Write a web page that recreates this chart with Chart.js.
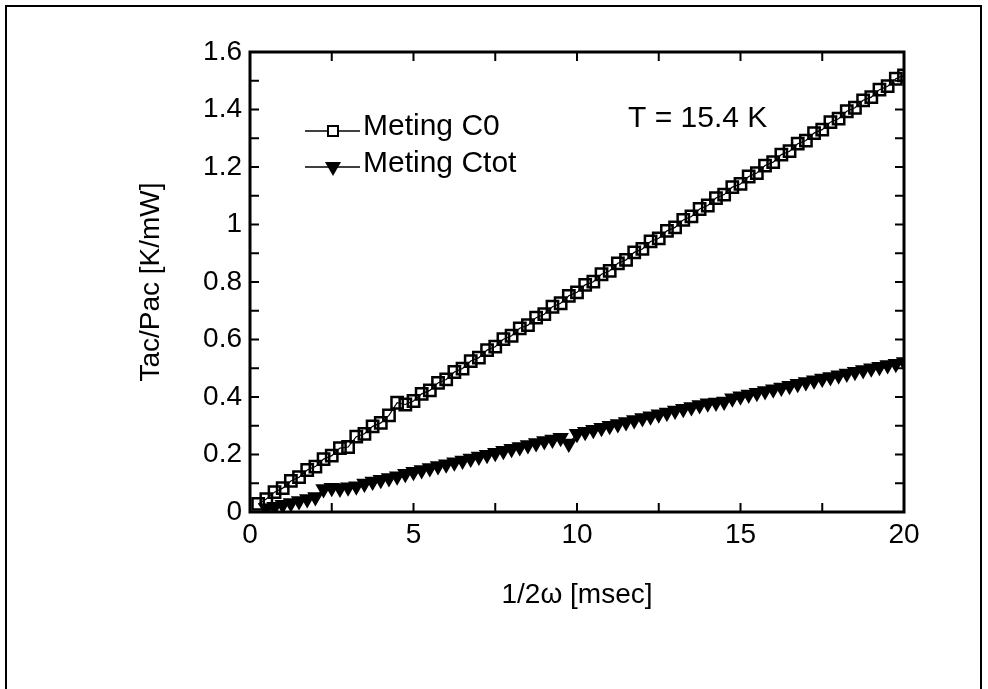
<!DOCTYPE html>
<html>
<head>
<meta charset="utf-8">
<script src="https://cdn.jsdelivr.net/npm/chart.js"></script>
<style>
  html, body { margin: 0; padding: 0; background: #fff; }
  #wrap { position: relative; width: 988px; height: 689px; }
  #frame {
    position: absolute; left: 5px; top: 5px; width: 973px; height: 700px;
    border: 2px solid #000; border-bottom: none; pointer-events: none;
  }
</style>
</head>
<body>
<div id="wrap">
  <canvas id="chart" width="988" height="689"></canvas>
  <div id="frame"></div>
</div>
<script>
// Data
const xC0 = [0.25, 0.5, 0.75, 1, 1.25, 1.5, 1.75, 2, 2.25, 2.5, 2.75, 3, 3.25, 3.5, 3.75, 4,
  4.25, 4.5, 4.75, 5, 5.25, 5.5, 5.75, 6, 6.25, 6.5, 6.75, 7, 7.25, 7.5, 7.75, 8,
  8.25, 8.5, 8.75, 9, 9.25, 9.5, 9.75, 10, 10.25, 10.5, 10.75, 11, 11.25, 11.5, 11.75, 12,
  12.25, 12.5, 12.75, 13, 13.25, 13.5, 13.75, 14, 14.25, 14.5, 14.75, 15, 15.25, 15.5, 15.75, 16,
  16.25, 16.5, 16.75, 17, 17.25, 17.5, 17.75, 18, 18.25, 18.5, 18.75, 19, 19.25, 19.5, 19.75, 20];
const c0Values = [0.028, 0.045, 0.069, 0.083, 0.108, 0.121, 0.146, 0.158, 0.184, 0.196, 0.222, 0.226, 0.262, 0.272, 0.298, 0.310,
  0.336, 0.380, 0.374, 0.386, 0.411, 0.423, 0.449, 0.461, 0.487, 0.499, 0.525, 0.537, 0.563, 0.575, 0.601, 0.613,
  0.639, 0.650, 0.676, 0.688, 0.714, 0.726, 0.752, 0.764, 0.790, 0.801, 0.827, 0.839, 0.865, 0.877, 0.903, 0.915,
  0.941, 0.952, 0.978, 0.990, 1.016, 1.028, 1.054, 1.066, 1.092, 1.104, 1.130, 1.141, 1.167, 1.179, 1.205, 1.217,
  1.243, 1.255, 1.281, 1.292, 1.318, 1.330, 1.356, 1.368, 1.394, 1.406, 1.432, 1.443, 1.469, 1.481, 1.507, 1.519];

const xCtot = [0.5, 0.75, 1, 1.25, 1.5, 1.75, 2, 2.25, 2.5, 2.75, 3, 3.25, 3.5, 3.75, 4,
  4.25, 4.5, 4.75, 5, 5.25, 5.5, 5.75, 6, 6.25, 6.5, 6.75, 7, 7.25, 7.5, 7.75, 8,
  8.25, 8.5, 8.75, 9, 9.25, 9.5, 9.75, 10, 10.25, 10.5, 10.75, 11, 11.25, 11.5, 11.75, 12,
  12.25, 12.5, 12.75, 13, 13.25, 13.5, 13.75, 14, 14.25, 14.5, 14.75, 15, 15.25, 15.5, 15.75, 16,
  16.25, 16.5, 16.75, 17, 17.25, 17.5, 17.75, 18, 18.25, 18.5, 18.75, 19, 19.25, 19.5, 19.75, 20];
const ctotValues = [0.012, 0.018, 0.025, 0.031, 0.038, 0.045, 0.052, 0.080, 0.084, 0.082, 0.086, 0.090, 0.099, 0.106, 0.112,
  0.118, 0.124, 0.133, 0.140, 0.146, 0.153, 0.160, 0.166, 0.173, 0.179, 0.186, 0.193, 0.199, 0.206, 0.213, 0.220,
  0.226, 0.233, 0.240, 0.247, 0.252, 0.258, 0.238, 0.272, 0.279, 0.286, 0.293, 0.300, 0.306, 0.313, 0.320, 0.327,
  0.333, 0.340, 0.346, 0.353, 0.359, 0.365, 0.372, 0.378, 0.381, 0.384, 0.396, 0.403, 0.409, 0.415, 0.421, 0.427,
  0.433, 0.439, 0.446, 0.452, 0.458, 0.464, 0.470, 0.476, 0.482, 0.488, 0.494, 0.500, 0.505, 0.511, 0.516, 0.522];

const xTicks = [0, 5, 10, 15, 20];
const xTickLabels = ["0", "5", "10", "15", "20"];
const xMinorTicks = [2.5, 7.5, 12.5, 17.5];
const yTicks = [0, 0.2, 0.4, 0.6, 0.8, 1, 1.2, 1.4, 1.6];
const yTickLabels = ["0", "0.2", "0.4", "0.6", "0.8", "1", "1.2", "1.4", "1.6"];
const yMinorTicks = [0.1, 0.3, 0.5, 0.7, 0.9, 1.1, 1.3, 1.5];

const seriesNames = ["Meting C0", "Meting Ctot"];
const annotationText = "T = 15.4 K";

Chart.defaults.font.family = '"Liberation Sans", Arial, Helvetica, sans-serif';
Chart.defaults.color = "#000";

// Frame, inward ticks on all four sides, legend and annotation
const decorations = {
  id: "decorations",
  afterDraw(chart) {
    const { ctx, chartArea: a, scales } = chart;
    const x = scales.x, y = scales.y;
    const tick = 9;
    ctx.save();
    ctx.strokeStyle = "#000";
    ctx.lineWidth = 2;
    ctx.beginPath();
    xTicks.concat(xMinorTicks).forEach((v) => {
      const px = x.getPixelForValue(v);
      ctx.moveTo(px, a.bottom); ctx.lineTo(px, a.bottom - tick);
      ctx.moveTo(px, a.top); ctx.lineTo(px, a.top + tick);
    });
    yTicks.concat(yMinorTicks).forEach((v) => {
      const py = y.getPixelForValue(v);
      ctx.moveTo(a.left, py); ctx.lineTo(a.left + tick, py);
      ctx.moveTo(a.right, py); ctx.lineTo(a.right - tick, py);
    });
    ctx.stroke();
    ctx.lineWidth = 3;
    ctx.strokeRect(a.left, a.top, a.right - a.left, a.bottom - a.top);

    // legend
    ctx.font = '30px "Liberation Sans", Arial, sans-serif';
    ctx.fillStyle = "#000";
    ctx.textBaseline = "alphabetic";
    const rows = [{ y: 131, base: 135 }, { y: 167, base: 172 }];
    rows.forEach((r, i) => {
      ctx.lineWidth = 1.5;
      ctx.beginPath();
      ctx.moveTo(305, r.y); ctx.lineTo(360, r.y);
      ctx.stroke();
      if (i === 0) {
        ctx.fillStyle = "#fff";
        ctx.fillRect(328, r.y - 5, 10, 10);
        ctx.lineWidth = 2;
        ctx.strokeRect(328, r.y - 5, 10, 10);
      } else {
        ctx.fillStyle = "#000";
        ctx.beginPath();
        ctx.moveTo(325, r.y - 5); ctx.lineTo(341, r.y - 5); ctx.lineTo(333, r.y + 9);
        ctx.closePath();
        ctx.fill();
      }
      ctx.fillStyle = "#000";
      ctx.fillText(seriesNames[i], 363, r.base);
    });
    ctx.fillText(annotationText, 628, 127);
    ctx.restore();
  }
};

const ctx = document.getElementById("chart").getContext("2d");
new Chart(ctx, {
  type: "scatter",
  data: {
    datasets: [
      {
        label: seriesNames[0],
        data: xC0.map((v, i) => ({ x: v, y: c0Values[i] })),
        showLine: true,
        borderColor: "#000",
        borderWidth: 1.2,
        pointStyle: "rect",
        pointRadius: 8,
        pointBorderWidth: 2.5,
        pointBackgroundColor: "rgba(255,255,255,0)",
        pointBorderColor: "#000",
      },
      {
        label: seriesNames[1],
        data: xCtot.map((v, i) => ({ x: v, y: ctotValues[i] })),
        showLine: true,
        borderColor: "#000",
        borderWidth: 1.2,
        pointStyle: "triangle",
        pointRotation: 180,
        pointRadius: 8,
        pointBorderWidth: 1.5,
        pointBackgroundColor: "#000",
        pointBorderColor: "#000",
      },
    ],
  },
  options: {
    responsive: false,
    animation: false,
    events: [],
    layout: { padding: { left: 134, right: 84, top: 52, bottom: 77 } },
    plugins: { legend: { display: false }, tooltip: { enabled: false } },
    scales: {
      x: {
        type: "linear",
        min: 0,
        max: 20,
        afterBuildTicks: (s) => { s.ticks = xTicks.map((v) => ({ value: v })); },
        afterFit: (s) => { s.height = 100; },
        ticks: {
          font: { size: 28 },
          padding: 6,
          maxRotation: 0,
          autoSkip: false,
          callback: (v) => xTickLabels[xTicks.indexOf(v)],
        },
        grid: { display: false, drawTicks: false },
        border: { display: false },
        title: { display: true, text: "1/2ω [msec]", font: { size: 28 }, padding: 0 },
      },
      y: {
        type: "linear",
        min: 0,
        max: 1.6,
        afterBuildTicks: (s) => { s.ticks = yTicks.map((v) => ({ value: v })); },
        afterFit: (s) => { s.width = 116; },
        ticks: {
          font: { size: 28 },
          padding: 8,
          autoSkip: false,
          callback: (v) => yTickLabels[yTicks.indexOf(v)],
        },
        grid: { display: false, drawTicks: false },
        border: { display: false },
        title: { display: true, text: "Tac/Pac [K/mW]", font: { size: 28 }, padding: 0 },
      },
    },
  },
  plugins: [decorations],
});
</script>
</body>
</html>
